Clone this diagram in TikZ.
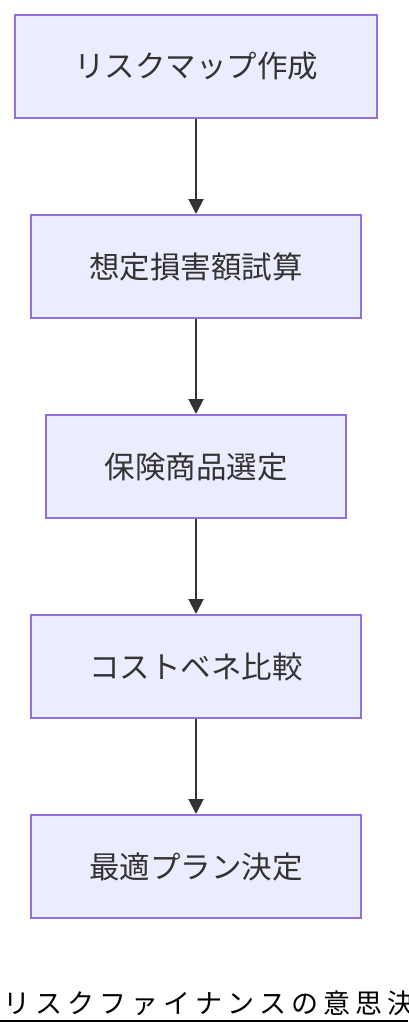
\documentclass[tikz,border=0pt]{standalone}
\usepackage{fontspec}
\newfontfamily\jpfont{Noto Sans CJK JP}
\newfontfamily\jptitle[LetterSpace=19]{Noto Sans CJK JP}
\usetikzlibrary{arrows.meta}
\definecolor{boxfill}{HTML}{ECECFF}
\definecolor{boxline}{HTML}{9370DB}
\definecolor{ink}{HTML}{333333}
\tikzset{
  stepbox/.style={draw=boxline, fill=boxfill, line width=2pt, minimum height=103pt,
    inner sep=0pt, font=\jpfont\fontsize{30.5pt}{36pt}\selectfont, text=ink},
  flow/.style={draw=ink, line width=2pt, -{Triangle[length=15pt,width=15pt]}}
}
\begin{document}
\begin{tikzpicture}[x=1pt,y=-1pt]
\useasboundingbox (0,0) rectangle (408,1036);
\fill[white] (0,0) rectangle (408,1036);
\node[stepbox, minimum width=362pt] (a) at (196,66.5) {リスクマップ作成};
\node[stepbox, minimum width=330pt] (b) at (196,266.5) {想定損害額試算};
\node[stepbox, minimum width=300pt] (c) at (196,466.5) {保険商品選定};
\node[stepbox, minimum width=330pt] (d) at (196,666.5) {コストベネ比較};
\node[stepbox, minimum width=330pt] (e) at (196,866.5) {最適プラン決定};
\draw[flow] (a.south) -- (b.north);
\draw[flow] (b.south) -- (c.north);
\draw[flow] (c.south) -- (d.north);
\draw[flow] (d.south) -- (e.north);
\node[anchor=base west, inner sep=0pt, font=\jptitle\fontsize{27pt}{30pt}\selectfont, text=black] (t) at (3,1013) {リスクファイナンスの意思決};
\coordinate (ul) at (0,1021);
\coordinate (ur) at (408,1021);
\draw[line width=2pt, black] (ul) -- (ur);
\end{tikzpicture}
\end{document}
